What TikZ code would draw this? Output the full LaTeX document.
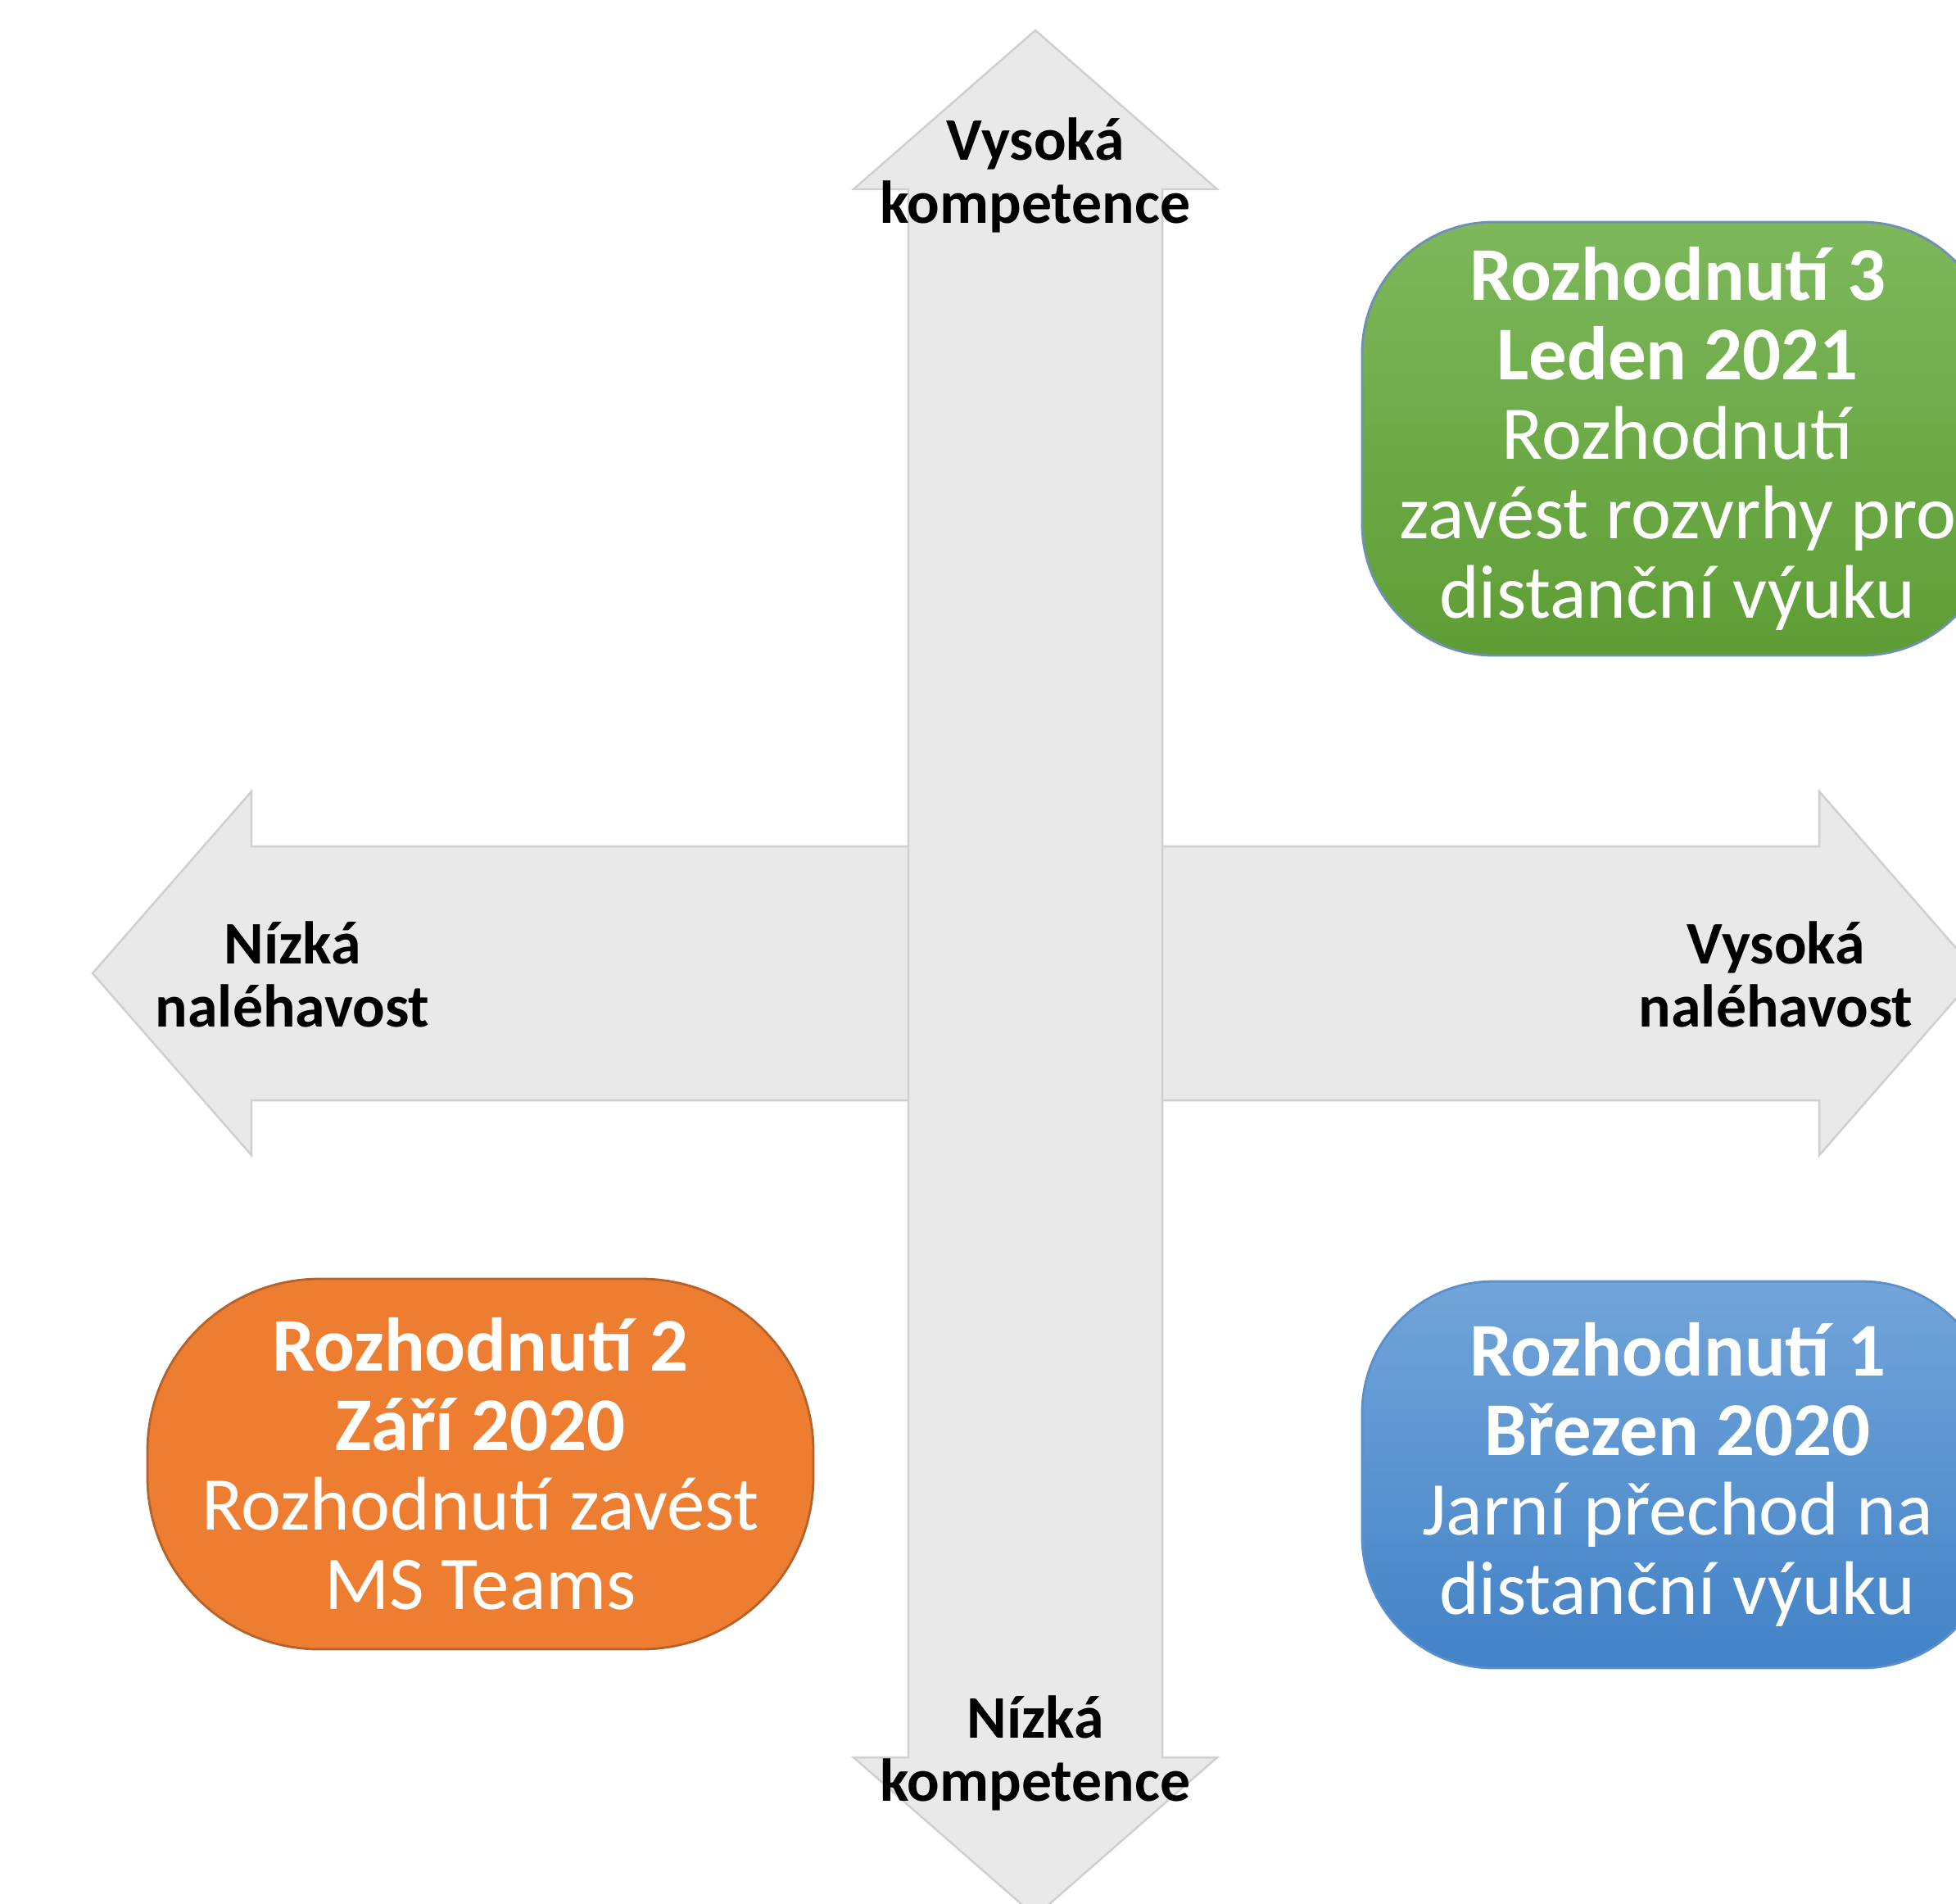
\documentclass[tikz,border=0pt]{standalone}
\usepackage{fontspec}
\setmainfont{Carlito}
\usepackage{tikz}
\usetikzlibrary{positioning}
\definecolor{axisgray}{HTML}{E9E9E9}
\definecolor{axisline}{HTML}{CFCFCF}
\definecolor{greentop}{HTML}{7DB85C}
\definecolor{greenbot}{HTML}{5E9D35}
\definecolor{greenline}{HTML}{6F8FB5}
\definecolor{bluetop}{HTML}{72A5D9}
\definecolor{bluebot}{HTML}{4282C7}
\definecolor{blueline}{HTML}{5B8FCC}
\definecolor{orangefill}{HTML}{ED7D31}
\definecolor{orangeline}{HTML}{B8622A}
\tikzset{
  axisarrow/.style={fill=axisgray,draw=axisline,line width=0.7pt,line join=miter},
  axislabel/.style={align=center,anchor=base,font=\fontsize{21}{21.9}\selectfont\bfseries},
  decision/.style={align=center,text=white,inner sep=0pt,line width=0.8pt,
    font=\fontsize{26.4}{27.6}\selectfont}
}
\newcommand{\dblarrow}{(-11.51,0) -- (-9.57,2.22) -- (-9.57,1.55) -- (9.57,1.55) -- (9.57,2.22)
  -- (11.51,0) -- (9.57,-2.22) -- (9.57,-1.55) -- (-9.57,-1.55) -- (-9.57,-2.22) -- cycle}

\begin{document}
\begin{tikzpicture}
  \useasboundingbox (0,0) rectangle (23.88,-23.23);
  \clip (0,0) rectangle (23.88,-23.23);
  \fill[white] (0,0) rectangle (23.88,-23.23);

  % the two axes
  \coordinate (c) at (12.64,-11.88);
  \begin{scope}[shift={(c)}]
    \draw[axisarrow] \dblarrow;
    \draw[axisarrow,rotate=90] \dblarrow;
  \end{scope}

  \node[axislabel] (hicomp) at (12.64,-2.72) {Vysoká\\kompetence};
  \node[axislabel] (locomp) at (12.64,-21.98) {Nízká\\kompetence};
  \node[axislabel] (lourg) at (3.57,-12.53) {Nízká\\naléhavost};
  \node[axislabel] (hiurg) at (21.68,-12.53) {Vysoká\\naléhavost};

  % decisions
  \node[decision,top color=greentop,bottom color=greenbot,draw=greenline,
    rounded corners=1.6cm,minimum width=7.7cm,minimum height=5.29cm] (dec3) at (20.48,-5.355)
    {\textbf{Rozhodnutí 3}\\\textbf{Leden 2021}\\Rozhodnutí\\zavést rozvrhy pro\\distanční výuku};
  \node[decision,fill=orangefill,draw=orangeline,
    rounded corners=2.1cm,minimum width=8.13cm,minimum height=4.52cm] (dec2) at (5.865,-17.87)
    {\textbf{Rozhodnutí 2}\\\textbf{Září 2020}\\Rozhodnutí zavést\\MS Teams};
  \node[decision,top color=bluetop,bottom color=bluebot,draw=blueline,
    rounded corners=1.6cm,minimum width=7.7cm,minimum height=4.72cm] (dec1) at (20.48,-18.0)
    {\textbf{Rozhodnutí 1}\\\textbf{Březen 2020}\\Jarní přechod na\\distanční výuku};
\end{tikzpicture}
\end{document}
